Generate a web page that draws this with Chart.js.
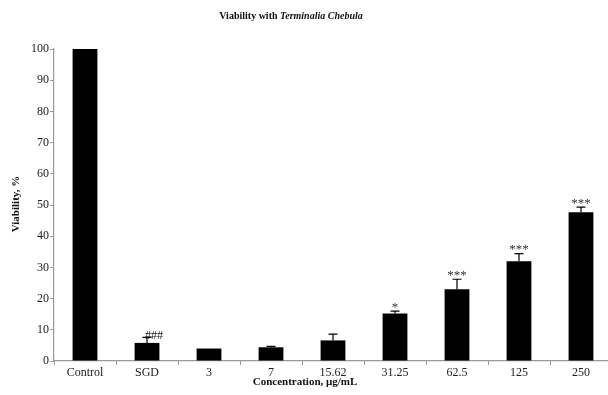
<!DOCTYPE html>
<html><head><meta charset="utf-8">
<script src="https://cdn.jsdelivr.net/npm/chart.js@4/dist/chart.umd.min.js"></script>
<style>
html,body{margin:0;padding:0;background:#fff;overflow:hidden;}
#wrap{width:620px;height:395px;position:relative;}
</style></head>
<body><div id="wrap"><canvas id="c" width="620" height="395"></canvas></div>
<script>
const categories = ['Control','SGD','3','7','15.62','31.25','62.5','125','250'];
const viability = [100, 5.8, 4.0, 4.4, 6.6, 15.2, 23.0, 32.0, 47.7];
const errors = [0, 1.8, 0, 0.3, 2.0, 0.8, 3.2, 2.4, 1.6];
const marks = ['', '###', '', '', '', '*', '***', '***', '***'];
const yTicks = [0,10,20,30,40,50,60,70,80,90,100];

const SERIF = '"Liberation Serif", "DejaVu Serif", serif';

const extras = {
  id: 'extras',
  afterDatasetsDraw(chart) {
    const ctx = chart.ctx;
    const meta = chart.getDatasetMeta(0);
    const y = chart.scales.y;
    ctx.save();
    ctx.strokeStyle = '#000';
    ctx.lineWidth = 1.2;
    meta.data.forEach((bar, i) => {
      const e = errors[i];
      const top = y.getPixelForValue(viability[i] + e);
      if (e > 0) {
        ctx.beginPath();
        ctx.moveTo(bar.x, bar.y);
        ctx.lineTo(bar.x, top);
        ctx.moveTo(bar.x - 4.5, top);
        ctx.lineTo(bar.x + 4.5, top);
        ctx.stroke();
      }
      if (marks[i]) {
        ctx.textAlign = 'center';
        ctx.textBaseline = 'middle';
        if (marks[i] === '###') {
          ctx.fillStyle = '#111';
          ctx.font = '12px ' + SERIF;
          ctx.fillText(marks[i], bar.x + 7, bar.y - 7);
        } else {
          ctx.fillStyle = '#333';
          ctx.font = '13px ' + SERIF;
          ctx.fillText(marks[i], bar.x, top - 4);
        }
      }
    });
    // titles
    ctx.fillStyle = '#111';
    ctx.textBaseline = 'middle';
    const t1 = 'Viability with ';
    const t2 = 'Terminalia Chebula';
    ctx.font = 'bold 10px ' + SERIF;
    const w1 = ctx.measureText(t1).width;
    ctx.font = 'bold italic 10px ' + SERIF;
    const w2 = ctx.measureText(t2).width;
    const start = 291 - (w1 + w2) / 2;
    ctx.textAlign = 'left';
    ctx.font = 'bold 10px ' + SERIF;
    ctx.fillText(t1, start, 16);
    ctx.font = 'bold italic 10px ' + SERIF;
    ctx.fillText(t2, start + w1, 16);
    ctx.textAlign = 'center';
    ctx.font = 'bold 11px ' + SERIF;
    ctx.fillText('Concentration, μg/mL', 305, 382);
    ctx.save();
    ctx.translate(16, 204);
    ctx.rotate(-Math.PI / 2);
    ctx.fillText('Viability, %', 0, 0);
    ctx.restore();
    ctx.restore();
  }
};

new Chart(document.getElementById('c'), {
  type: 'bar',
  data: {
    labels: categories,
    datasets: [{
      data: viability,
      backgroundColor: '#000',
      borderWidth: 0,
      barPercentage: 0.4,
      categoryPercentage: 1.0
    }]
  },
  options: {
    responsive: false,
    animation: false,
    layout: { padding: { left: 0, top: 49, right: 8, bottom: 0 } },
    plugins: { legend: { display: false }, tooltip: { enabled: false }, title: { display: false } },
    scales: {
      x: {
        offset: true,
        grid: { display: true, drawOnChartArea: false, offset: true, tickLength: 4, color: '#999', lineWidth: 1 },
        border: { color: '#999', width: 1.2 },
        ticks: { color: '#222', font: { family: SERIF, size: 12 }, padding: 1, maxRotation: 0, autoSkip: false },
        afterFit(s) { s.height = 34; }
      },
      y: {
        min: 0, max: 100,
        afterBuildTicks(s) { s.ticks = yTicks.map(v => ({ value: v })); },
        grid: { display: true, drawOnChartArea: false, tickLength: 4, color: '#999' },
        border: { color: '#999', width: 1.2 },
        ticks: { color: '#222', font: { family: SERIF, size: 12 }, padding: 1 },
        afterFit(s) { s.width = 54; }
      }
    }
  },
  plugins: [extras]
});
</script>
</body></html>
